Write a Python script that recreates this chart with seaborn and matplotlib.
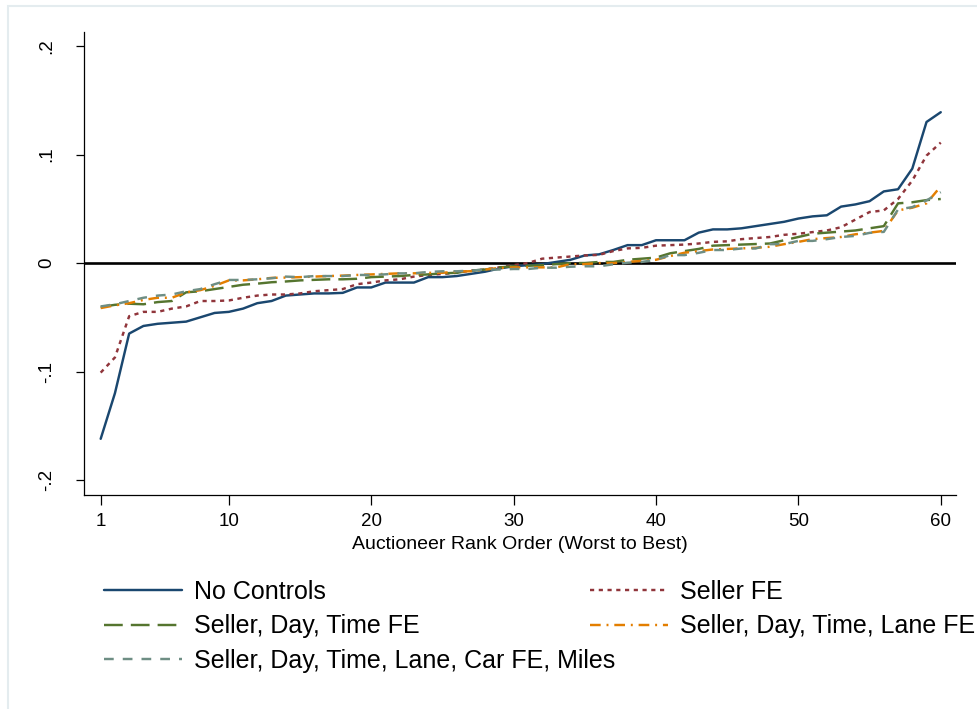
import matplotlib
matplotlib.use("Agg")
import matplotlib.pyplot as plt
import seaborn as sns
import numpy as np
import pandas as pd
from matplotlib.patches import Rectangle

# ---------------- data ----------------
rank = list(range(1, 61))

no_controls = [-0.162, -0.120, -0.065, -0.058, -0.056, -0.055, -0.054, -0.050, -0.046, -0.045,
               -0.042, -0.037, -0.035, -0.030, -0.029, -0.028, -0.028, -0.0275, -0.0225, -0.0225,
               -0.018, -0.018, -0.018, -0.013, -0.013, -0.012, -0.010, -0.008, -0.005, -0.003,
               -0.002, -0.001, 0.001, 0.003, 0.007, 0.008, 0.012, 0.0165, 0.0165, 0.021,
               0.021, 0.021, 0.028, 0.031, 0.031, 0.032, 0.034, 0.036, 0.038, 0.041,
               0.043, 0.044, 0.052, 0.054, 0.057, 0.066, 0.068, 0.087, 0.130, 0.139]

seller_fe = [-0.101, -0.087, -0.049, -0.045, -0.045, -0.042, -0.040, -0.035, -0.035, -0.0345,
             -0.032, -0.030, -0.029, -0.029, -0.028, -0.026, -0.025, -0.024, -0.0195, -0.018,
             -0.016, -0.015, -0.0125, -0.011, -0.010, -0.009, -0.007, -0.006, -0.004, -0.002,
             0.000, 0.004, 0.005, 0.006, 0.007, 0.0075, 0.011, 0.0135, 0.014, 0.016,
             0.0165, 0.017, 0.018, 0.0195, 0.020, 0.022, 0.023, 0.024, 0.026, 0.027,
             0.0285, 0.030, 0.033, 0.040, 0.047, 0.0485, 0.059, 0.076, 0.099, 0.111]

seller_day_time = [-0.0405, -0.0385, -0.0375, -0.038, -0.036, -0.035, -0.027, -0.026, -0.024, -0.022,
                   -0.020, -0.019, -0.0177, -0.017, -0.016, -0.0155, -0.015, -0.015, -0.0145, -0.013,
                   -0.0125, -0.012, -0.011, -0.0105, -0.0095, -0.009, -0.007, -0.006, -0.004, -0.003,
                   -0.0025, -0.002, -0.001, 0.000, 0.000, 0.001, 0.001, 0.003, 0.004, 0.005,
                   0.009, 0.011, 0.013, 0.016, 0.0165, 0.017, 0.0175, 0.018, 0.021, 0.024,
                   0.027, 0.028, 0.029, 0.030, 0.032, 0.034, 0.055, 0.056, 0.058, 0.059]

seller_day_time_lane = [-0.0415, -0.039, -0.037, -0.034, -0.032, -0.032, -0.027, -0.025, -0.021, -0.016,
                        -0.016, -0.015, -0.0137, -0.0134, -0.013, -0.0125, -0.012, -0.0116, -0.011, -0.0105,
                        -0.010, -0.0095, -0.0095, -0.009, -0.009, -0.008, -0.0075, -0.006, -0.0045, -0.004,
                        -0.004, -0.004, -0.004, -0.001, -0.001, 0.000, 0.000, 0.001, 0.002, 0.003,
                        0.0064, 0.0095, 0.011, 0.0125, 0.013, 0.0135, 0.014, 0.015, 0.0174, 0.0195,
                        0.022, 0.023, 0.024, 0.0265, 0.028, 0.0296, 0.0485, 0.051, 0.055, 0.0707]

full_controls = [-0.040, -0.038, -0.035, -0.032, -0.030, -0.029, -0.026, -0.024, -0.0195, -0.0156,
                 -0.0156, -0.015, -0.014, -0.0125, -0.013, -0.012, -0.012, -0.012, -0.011, -0.011,
                 -0.0104, -0.0095, -0.0095, -0.0082, -0.0076, -0.0076, -0.007, -0.006, -0.006, -0.0055,
                 -0.0055, -0.0043, -0.0043, -0.0034, -0.003, -0.003, -0.0012, 0.0003, 0.001, 0.003,
                 0.0073, 0.0073, 0.0094, 0.012, 0.012, 0.0134, 0.0134, 0.0174, 0.0174, 0.0204,
                 0.0204, 0.022, 0.024, 0.025, 0.0278, 0.0287, 0.0494, 0.0515, 0.0577, 0.0653]

series_names = ["No Controls", "Seller FE", "Seller, Day, Time FE",
                "Seller, Day, Time, Lane FE", "Seller, Day, Time, Lane, Car FE, Miles"]
series_values = [no_controls, seller_fe, seller_day_time, seller_day_time_lane, full_controls]

x_ticks = [1, 10, 20, 30, 40, 50, 60]
y_ticks = [-0.2, -0.1, 0.0, 0.1, 0.2]
y_tick_labels = ["-.2", "-.1", "0", ".1", ".2"]
x_label = "Auctioneer Rank Order (Worst to Best)"

# ---------------- style ----------------
colors = ["#1A476F", "#90353B", "#55752F", "#E37E00", "#6E8E84"]
linestyles = ["-", (0, (3.0, 3.3)), (0, (13.5, 5.8)), (0, (7.7, 4.2, 1.4, 4.2)), (0, (7.0, 6.5))]

sns.set_style("ticks")
plt.rcParams["font.family"] = ["Liberation Sans", "DejaVu Sans"]
plt.rcParams["lines.scale_dashes"] = False
plt.rcParams["text.color"] = "black"
plt.rcParams["axes.labelcolor"] = "black"

fig = plt.figure(figsize=(9.77, 7.09), dpi=100)
fig.patch.set_facecolor("white")
ax = fig.add_axes([0.0863, 0.3018, 0.9785 - 0.0863, 0.9553 - 0.3018])

# outer light frame (Stata graph region outline)
fig.patches.append(Rectangle((7.5 / 977, -0.05), 1.2, 1 - 5.5 / 709 + 0.05,
                             transform=fig.transFigure, fill=False,
                             edgecolor="#E4ECEF", linewidth=1.5, zorder=0))

ax.axhline(0, color="black", lw=1.9, zorder=1.5)

for name, vals, c, ls in zip(series_names, series_values, colors, linestyles):
    df = pd.DataFrame({"rank": rank, "value": vals})
    sns.lineplot(data=df, x="rank", y="value", color=c, linestyle=ls,
                 linewidth=1.75, ax=ax, label=name, legend=False, zorder=2)

ax.set_xlim(-0.15, 61.07)
ax.set_ylim(-0.2138, 0.2132)
ax.set_xticks(x_ticks)
ax.set_xticklabels([str(t) for t in x_ticks], fontsize=13.5)
ax.set_yticks(y_ticks)
ax.set_yticklabels(y_tick_labels, fontsize=13.5, rotation=90, va="center")
ax.tick_params(axis="x", length=7, width=0.9, pad=6, colors="black")
ax.tick_params(axis="y", length=6, width=0.9, pad=15, colors="black")

ax.set_xlabel(x_label, fontsize=14, labelpad=4, color="black")
ax.set_ylabel("")

for side in ["top", "right"]:
    ax.spines[side].set_visible(False)
for side in ["left", "bottom"]:
    ax.spines[side].set_color("black")
    ax.spines[side].set_linewidth(0.9)

lines = ax.get_lines()[1:]  # skip zero line
leg_kw = dict(frameon=False, borderpad=0, borderaxespad=0, handlelength=3.1,
              handletextpad=0.52, labelspacing=0.42, fontsize=18, loc="upper left",
              labelcolor="black")
leg1 = fig.legend(handles=[lines[0], lines[2], lines[4]],
                  labels=[series_names[0], series_names[2], series_names[4]],
                  bbox_to_anchor=(104 / 977, 1 - 580 / 709), **leg_kw)
leg2 = fig.legend(handles=[lines[1], lines[3]],
                  labels=[series_names[1], series_names[3]],
                  bbox_to_anchor=(590 / 977, 1 - 580 / 709), **leg_kw)

fig.savefig("out.png", dpi=100, facecolor="white")
